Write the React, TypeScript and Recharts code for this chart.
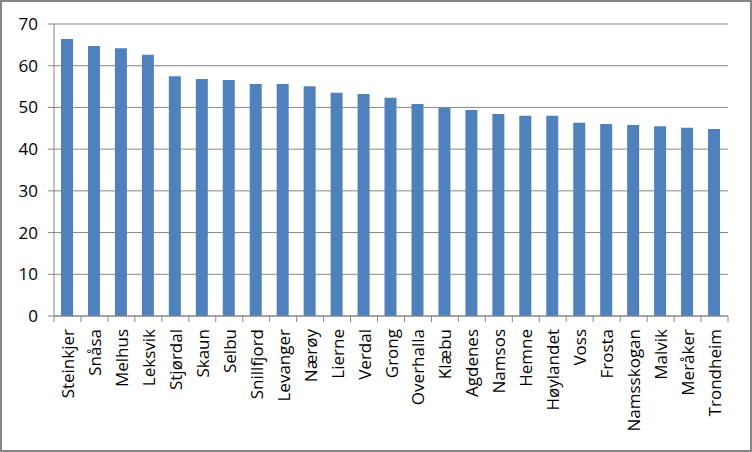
import React from 'react';
import { BarChart, Bar, XAxis, YAxis, CartesianGrid } from 'recharts';

const municipalities = [
  'Steinkjer', 'Snåsa', 'Melhus', 'Leksvik', 'Stjørdal', 'Skaun', 'Selbu', 'Snillfjord',
  'Levanger', 'Nærøy', 'Lierne', 'Verdal', 'Grong', 'Overhalla', 'Klæbu', 'Agdenes',
  'Namsos', 'Hemne', 'Høylandet', 'Voss', 'Frosta', 'Namsskogan', 'Malvik', 'Meråker', 'Trondheim',
];

const values = [
  66.4, 64.7, 64.2, 62.6, 57.5, 56.8, 56.6, 55.6,
  55.6, 55.1, 53.5, 53.2, 52.3, 50.8, 50.0, 49.4,
  48.4, 48.0, 48.0, 46.3, 46.0, 45.8, 45.5, 45.1, 44.8,
];

const yTicks = [0, 10, 20, 30, 40, 50, 60, 70];

const chartData = municipalities.map((name, i) => ({ name, value: values[i] }));

const FONT = '"Open Sans", "Liberation Sans", sans-serif';
const GRAY = '#868686';

// category label rotated, plus tick marks on the category boundaries
const CategoryTick = (props: any) => {
  const { x, y, payload, index } = props;
  const half = payload.offset || 0;
  const axisY = y - 6 - 4;
  return (
    <g>
      <line x1={x - half} y1={axisY} x2={x - half} y2={axisY + 6} stroke={GRAY} />
      {index === municipalities.length - 1 && (
        <line x1={x + half} y1={axisY} x2={x + half} y2={axisY + 6} stroke={GRAY} />
      )}
      <text
        x={x}
        y={y + 3}
        transform={`rotate(-90, ${x}, ${y + 3})`}
        textAnchor="end"
        dominantBaseline="central"
        fill="#000"
        fontSize={17}
        fontFamily={FONT}
      >
        {payload.value}
      </text>
    </g>
  );
};

export default function App() {
  return (
    <div
      style={{
        position: 'absolute',
        left: 0,
        top: 0,
        width: 752,
        height: 452,
        boxSizing: 'border-box',
        border: `2px solid ${GRAY}`,
        background: '#fff',
      }}
    >
      <BarChart
        width={748}
        height={448}
        data={chartData}
        margin={{ top: 22, right: 22, left: 0, bottom: 0 }}
        barSize={12}
      >
        <CartesianGrid vertical={false} stroke={GRAY} strokeWidth={1} />
        <XAxis
          dataKey="name"
          interval={0}
          height={134}
          axisLine={{ stroke: GRAY }}
          tickLine={false}
          tickSize={6}
          tickMargin={4}
          tick={<CategoryTick />}
        />
        <YAxis
          domain={[0, 70]}
          ticks={yTicks}
          width={52}
          axisLine={{ stroke: GRAY }}
          tickLine={{ stroke: GRAY }}
          tickSize={6}
          tickMargin={10}
          tick={{ fill: '#000', fontSize: 17, fontFamily: FONT }}
        />
        <Bar dataKey="value" fill="#4F81BD" isAnimationActive={false} />
      </BarChart>
    </div>
  );
}
